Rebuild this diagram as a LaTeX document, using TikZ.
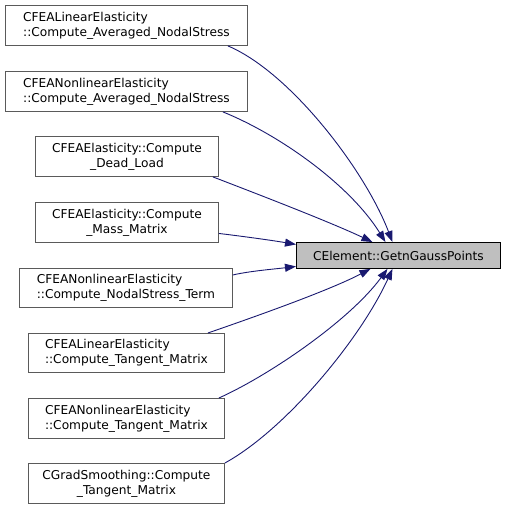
\documentclass[tikz,border=0pt]{standalone}
\usepackage{fontspec}
\setmainfont{DejaVu Sans}
\usetikzlibrary{arrows.meta,positioning,calc}
\definecolor{edgeBlue}{RGB}{25,25,112}
\definecolor{boxGrey}{RGB}{90,90,90}
\definecolor{fillGrey}{RGB}{191,191,191}

\begin{document}
\begin{tikzpicture}[x=1pt,y=-1pt,
    fn/.style={draw=boxGrey,line width=0.9pt,fill=white,inner sep=0pt,anchor=north west,
      font=\fontsize{12.2}{15}\selectfont},
    call/.style={draw=edgeBlue,line width=0.9pt,-{Triangle[length=11pt,width=8pt]}}]
  \useasboundingbox (0,0) rectangle (505,509);
  % callers
  \node[fn,align=left,minimum width=242,minimum height=40] (avgLin) at (5,5)
    {CFEALinearElasticity\\::Compute\_Averaged\_NodalStress};
  \node[fn,align=left,minimum width=242,minimum height=40] (avgNon) at (5,71)
    {CFEANonlinearElasticity\\::Compute\_Averaged\_NodalStress};
  \node[fn,align=center,minimum width=183,minimum height=40] (deadLoad) at (35,136)
    {CFEAElasticity::Compute\\\_Dead\_Load};
  \node[fn,align=center,minimum width=183,minimum height=40] (massMat) at (35,202)
    {CFEAElasticity::Compute\\\_Mass\_Matrix};
  \node[fn,align=left,minimum width=213,minimum height=39] (nodalTerm) at (19,268)
    {CFEANonlinearElasticity\\::Compute\_NodalStress\_Term};
  \node[fn,align=left,minimum width=196,minimum height=39] (tanLin) at (28,333)
    {CFEALinearElasticity\\::Compute\_Tangent\_Matrix};
  \node[fn,align=left,minimum width=196,minimum height=40] (tanNon) at (28,398)
    {CFEANonlinearElasticity\\::Compute\_Tangent\_Matrix};
  \node[fn,align=center,minimum width=196,minimum height=40] (tanGrad) at (28,463)
    {CGradSmoothing::Compute\\\_Tangent\_Matrix};
  % callee
  \node[fn,draw=black,fill=fillGrey,minimum width=204,minimum height=26] (gauss) at (296,242)
    {CElement::GetnGaussPoints};
  % calls
  \draw[call] ([xshift=-20pt]avgLin.south east) .. controls (290,72) and (365,170) .. ([xshift=-6pt]gauss.north);
  \draw[call] ([xshift=-25pt]avgNon.south east) .. controls (280,135) and (350,185) .. ([xshift=-13pt]gauss.north);
  \draw[call] ([xshift=-6pt]deadLoad.south east) .. controls (260,195) and (330,222) .. ([xshift=-26pt]gauss.north);
  \draw[call] ([yshift=-11pt]massMat.east) .. controls (240,236) and (270,240) .. ([yshift=11pt]gauss.west);
  \draw[call] ([yshift=13pt]nodalTerm.east) .. controls (250,271) and (275,269) .. ([yshift=-11pt]gauss.west);
  \draw[call] ([xshift=-17pt]tanLin.north east) .. controls (260,315) and (330,290) .. ([xshift=-28pt]gauss.south);
  \draw[call] ([xshift=-6pt]tanNon.north east) .. controls (270,375) and (350,320) .. ([xshift=-11pt]gauss.south);
  \draw[call] (tanGrad.north east) .. controls (285,430) and (360,340) .. ([xshift=-6pt]gauss.south);
\end{tikzpicture}
\end{document}
